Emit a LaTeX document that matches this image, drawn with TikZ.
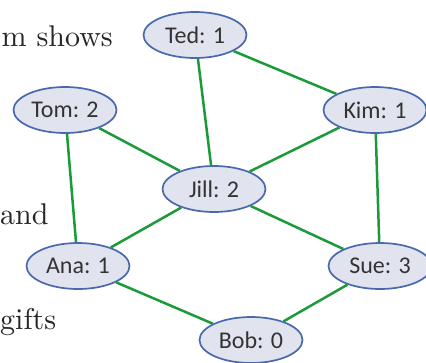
\documentclass[tikz,border=0pt]{standalone}
\usepackage{fontspec}
\newfontfamily\nodefont{Carlito}
\newfontfamily\prosefont{lmroman10-regular}[Extension=.otf]
\usepackage{tikz}
\usetikzlibrary{shapes.geometric}

\definecolor{vertexfill}{HTML}{E1E4EE}
\definecolor{vertexline}{HTML}{4A69AD}
\definecolor{edgegreen}{HTML}{1A9A38}

\begin{document}
\begin{tikzpicture}[
			x=1pt, y=-1pt,
			vertex/.style = {ellipse, draw=vertexline, fill=vertexfill, line width=1.7pt,
					minimum width=103pt, minimum height=46pt, inner sep=0pt,
					font=\nodefont\fontsize{24}{27}\selectfont, text=black!80},
			edge/.style   = {draw=edgegreen, line width=2.5pt},
			prose/.style  = {anchor=base east, inner sep=0pt, font=\prosefont\fontsize{30}{34}\selectfont, text=black!85}
			]
			\useasboundingbox (0,0) rectangle (426,362);

			% cut-off text on the left
			\node[prose] (t1) at (113,46) {m\hskip 10pt shows};
			\node[prose, anchor=base west] (t2) at (0,224) {and};
			\node[prose, anchor=base west] (t3) at (0,329) {gifts};

			% people
			\node[vertex] (ted)  at (195,35)  {Ted: 1};
			\node[vertex] (tom)  at (65,110)  {Tom: 2};
			\node[vertex] (kim)  at (375,110) {Kim: 1};
			\node[vertex] (jill) at (214,189) {Jill: 2};
			\node[vertex] (ana)  at (78,266)  {Ana: 1};
			\node[vertex] (sue)  at (380,266) {Sue: 3};
			\node[vertex] (bob)  at (251,340) {Bob: 0};

			% friendships
			\foreach \u/\v in {ted/jill, ted/kim, tom/jill, tom/ana, kim/jill, kim/sue, jill/ana, jill/sue, ana/bob, sue/bob}
			\draw[edge] (\u) -- (\v);
		\end{tikzpicture}
\end{document}
